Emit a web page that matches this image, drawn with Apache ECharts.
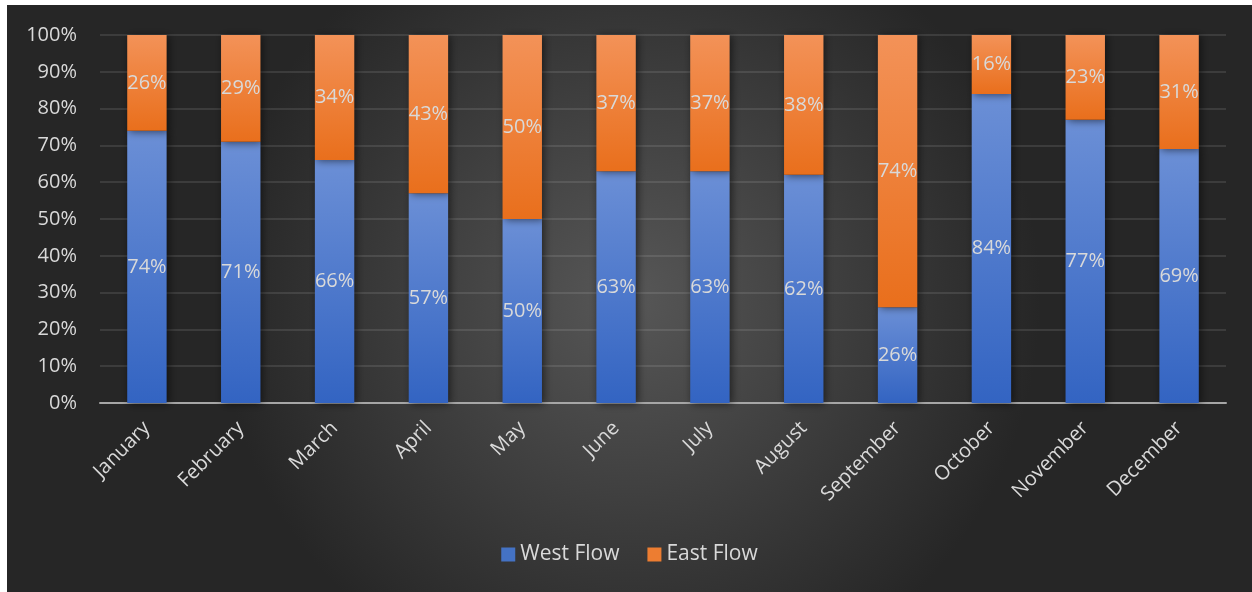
<!DOCTYPE html>
<html>
<head>
<meta charset="utf-8">
<script src="https://cdn.jsdelivr.net/npm/echarts@6/dist/echarts.min.js"></script>
<style>
  html, body { margin: 0; padding: 0; background: #ffffff; }
  #chart { position: absolute; left: 7px; top: 5px; width: 1245px; height: 587px; }
</style>
</head>
<body>
<div id="chart"></div>
<script>
const months = ['January', 'February', 'March', 'April', 'May', 'June', 'July',
  'August', 'September', 'October', 'November', 'December'];
const westFlow = [74, 71, 66, 57, 50, 63, 63, 62, 26, 84, 77, 69];
const eastFlow = [26, 29, 34, 43, 50, 37, 37, 38, 74, 16, 23, 31];

const FONT = '"Open Sans", "Noto Sans", sans-serif';
const TEXT = '#d9d9d9';

function vGrad(top, bottom) {
  return new echarts.graphic.LinearGradient(0, 0, 0, 1, [
    { offset: 0, color: top },
    { offset: 1, color: bottom }
  ]);
}

const labelStyle = {
  show: true,
  position: 'inside',
  formatter: '{c}%',
  color: TEXT,
  fontFamily: FONT,
  fontSize: 20
};

const barShadow = {
  shadowBlur: 8,
  shadowColor: 'rgba(0,0,0,0.55)',
  shadowOffsetX: 2,
  shadowOffsetY: 1
};

const chart = echarts.init(document.getElementById('chart'));
chart.setOption({
  backgroundColor: new echarts.graphic.RadialGradient(0.5, 0.5, 0.7, [
    { offset: 0, color: '#575757' },
    { offset: 1, color: '#262626' }
  ]),
  animation: false,
  grid: { left: 93, right: 26, top: 30, bottom: 189, containLabel: false },
  legend: {
    bottom: 22,
    left: 'center',
    itemWidth: 14,
    itemHeight: 14,
    itemGap: 28,
    icon: 'rect',
    textStyle: { color: TEXT, fontFamily: FONT, fontSize: 21 },
    data: [
      { name: 'West Flow', itemStyle: { color: '#4472c4' } },
      { name: 'East Flow', itemStyle: { color: '#ed7d31' } }
    ]
  },
  xAxis: {
    type: 'category',
    data: months,
    axisLine: { lineStyle: { color: '#a6a6a6', width: 2 } },
    axisTick: { show: false },
    axisLabel: {
      color: TEXT,
      fontFamily: FONT,
      fontSize: 20,
      rotate: 45,
      margin: 22,
      interval: 0
    }
  },
  yAxis: {
    type: 'value',
    min: 0,
    max: 100,
    interval: 10,
    axisLine: { show: false },
    axisTick: { show: false },
    splitLine: { lineStyle: { color: 'rgba(255,255,255,0.1)', width: 2 } },
    axisLabel: {
      color: TEXT,
      fontFamily: FONT,
      fontSize: 20,
      margin: 23,
      formatter: '{value}%'
    }
  },
  series: [
    {
      name: 'West Flow',
      type: 'bar',
      stack: 'flow',
      barWidth: '42%',
      data: westFlow,
      label: labelStyle,
      itemStyle: Object.assign({ color: vGrad('#6b8fd6', '#3364c2') }, barShadow)
    },
    {
      name: 'East Flow',
      type: 'bar',
      stack: 'flow',
      barWidth: '42%',
      data: eastFlow,
      label: labelStyle,
      itemStyle: Object.assign({ color: vGrad('#f39258', '#e96f1c') }, barShadow)
    }
  ]
});
</script>
</body>
</html>
